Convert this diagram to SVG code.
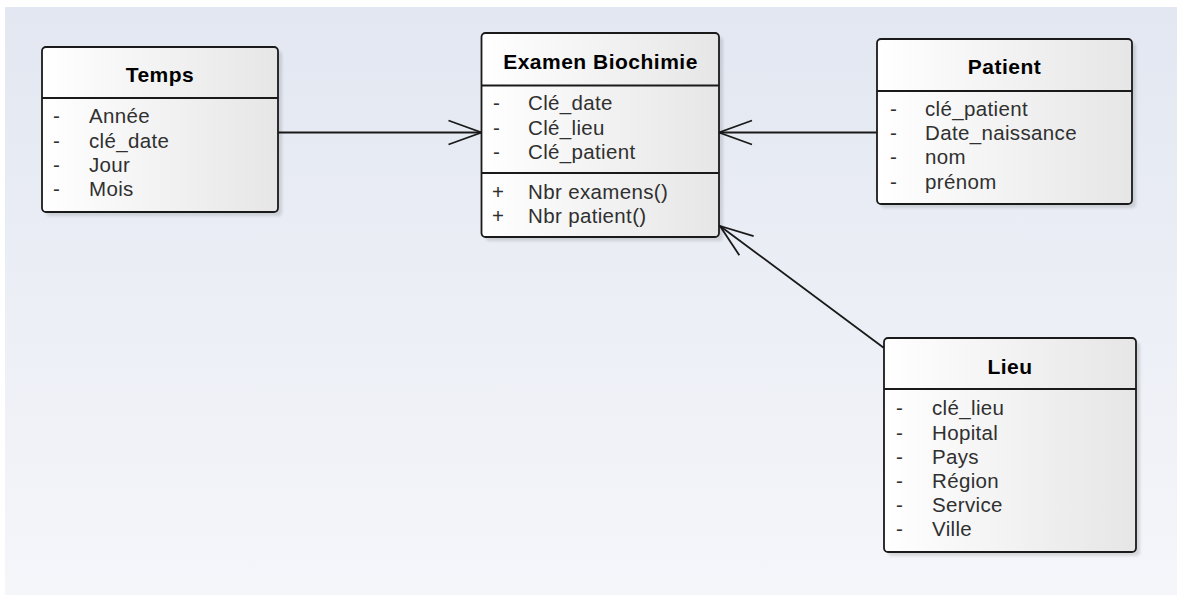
<svg xmlns="http://www.w3.org/2000/svg" width="1182" height="595" viewBox="0 0 1182 595">
  <defs>
    <linearGradient id="canvasGrad" x1="0" y1="0" x2="0" y2="1">
      <stop offset="0" stop-color="#e2e7f1"/>
      <stop offset="1" stop-color="#f5f6fa"/>
    </linearGradient>
    <linearGradient id="classFill" x1="0" y1="0" x2="1" y2="0">
      <stop offset="0" stop-color="#ffffff"/>
      <stop offset="1" stop-color="#e6e6e6"/>
    </linearGradient>
    <filter id="soft" x="-10%" y="-10%" width="120%" height="120%">
      <feGaussianBlur stdDeviation="1.5"/>
    </filter>
    <marker id="openArrow" markerUnits="userSpaceOnUse" viewBox="-37 -15 40 30" refX="0" refY="0" markerWidth="40" markerHeight="30" orient="auto">
      <path d="M -33 -12 L 0 0 L -33 12" fill="none" stroke="#1a1a1a" stroke-width="1.8"/>
    </marker>
    <style>
      .shadow { fill: #000; opacity: 0.12; filter: url(#soft); }
      .box { fill: url(#classFill); stroke: #1a1a1a; stroke-width: 1.8; }
      .sep { stroke: #1a1a1a; stroke-width: 1.8; }
      .title { font-family: "Liberation Sans", Arial, sans-serif; font-weight: bold; font-size: 21px; letter-spacing: 0.5px; fill: #000; text-anchor: middle; }
      .row { font-family: "Liberation Sans", Arial, sans-serif; font-size: 20.5px; letter-spacing: 0.35px; fill: #303030; }
      .link { fill: none; stroke: #1a1a1a; stroke-width: 1.8; marker-end: url(#openArrow); }
    </style>
  </defs>

  <!-- drawing canvas -->
  <rect x="5" y="7" width="1172" height="588" fill="url(#canvasGrad)"/>

  <!-- associations -->
  <g id="connectors">
    <path class="link" d="M 278 132.5 L 481.5 132.5"/>
    <path class="link" d="M 877 132.5 L 719 132.5"/>
    <path class="link" d="M 884 348 L 720 226"/>
  </g>

  <g id="temps">
    <rect class="shadow" x="46" y="51" width="236" height="165" rx="4"/>
    <rect class="box" x="42" y="47" width="236" height="165" rx="4"/>
    <line class="sep" x1="42" y1="98" x2="278" y2="98"/>
    <text class="title" x="160" y="82">Temps</text>
    <text class="row" x="53" y="123">-</text><text class="row" x="89" y="123">Année</text>
    <text class="row" x="53" y="147.5">-</text><text class="row" x="89" y="147.5">clé_date</text>
    <text class="row" x="53" y="172">-</text><text class="row" x="89" y="172">Jour</text>
    <text class="row" x="53" y="196">-</text><text class="row" x="89" y="196">Mois</text>
  </g>

  <g id="examen-biochimie">
    <rect class="shadow" x="485.5" y="37" width="237.5" height="204" rx="4"/>
    <rect class="box" x="481.5" y="33" width="237.5" height="204" rx="4"/>
    <line class="sep" x1="481.5" y1="85.5" x2="719" y2="85.5"/>
    <line class="sep" x1="481.5" y1="173" x2="719" y2="173"/>
    <text class="title" x="600.5" y="68.5">Examen Biochimie</text>
    <text class="row" x="493" y="110">-</text><text class="row" x="528" y="110">Clé_date</text>
    <text class="row" x="493" y="134.5">-</text><text class="row" x="528" y="134.5">Clé_lieu</text>
    <text class="row" x="493" y="159">-</text><text class="row" x="528" y="159">Clé_patient</text>
    <text class="row" x="492" y="198.5">+</text><text class="row" x="528" y="198.5">Nbr examens()</text>
    <text class="row" x="492" y="222.5">+</text><text class="row" x="528" y="222.5">Nbr patient()</text>
  </g>

  <g id="patient">
    <rect class="shadow" x="881" y="43" width="255" height="165" rx="4"/>
    <rect class="box" x="877" y="39" width="255" height="165" rx="4"/>
    <line class="sep" x1="877" y1="91" x2="1132" y2="91"/>
    <text class="title" x="1004.5" y="74">Patient</text>
    <text class="row" x="890" y="116">-</text><text class="row" x="925" y="116">clé_patient</text>
    <text class="row" x="890" y="140">-</text><text class="row" x="925" y="140">Date_naissance</text>
    <text class="row" x="890" y="164">-</text><text class="row" x="925" y="164">nom</text>
    <text class="row" x="890" y="188.5">-</text><text class="row" x="925" y="188.5">prénom</text>
  </g>

  <g id="lieu">
    <rect class="shadow" x="888" y="342" width="252" height="214" rx="4"/>
    <rect class="box" x="884" y="338" width="252" height="214" rx="4"/>
    <line class="sep" x1="884" y1="389" x2="1136" y2="389"/>
    <text class="title" x="1010" y="373.5">Lieu</text>
    <text class="row" x="896" y="415">-</text><text class="row" x="932" y="415">clé_lieu</text>
    <text class="row" x="896" y="439.5">-</text><text class="row" x="932" y="439.5">Hopital</text>
    <text class="row" x="896" y="463.5">-</text><text class="row" x="932" y="463.5">Pays</text>
    <text class="row" x="896" y="488">-</text><text class="row" x="932" y="488">Région</text>
    <text class="row" x="896" y="512">-</text><text class="row" x="932" y="512">Service</text>
    <text class="row" x="896" y="536">-</text><text class="row" x="932" y="536">Ville</text>
  </g>
</svg>
